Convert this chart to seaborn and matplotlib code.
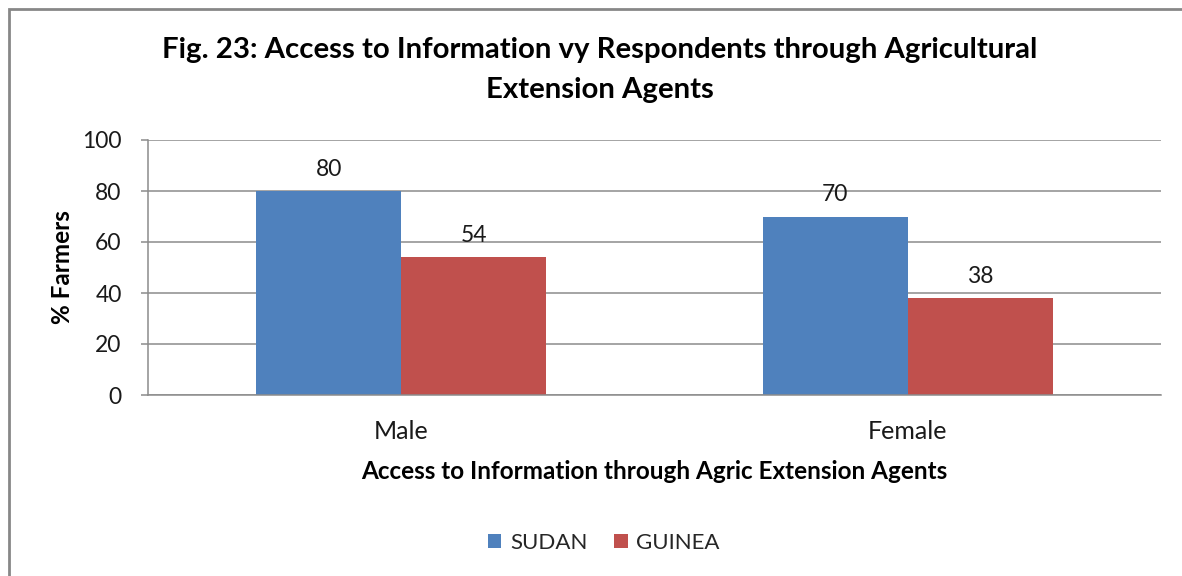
import matplotlib
matplotlib.use("Agg")
import matplotlib.pyplot as plt
import seaborn as sns
import pandas as pd
from matplotlib.patches import Rectangle, Patch

categories = ["Male", "Female"]
series_names = ["SUDAN", "GUINEA"]
sudan = [80, 70]
guinea = [54, 38]
yticks = [0, 20, 40, 60, 80, 100]
colors = ["#4F81BD", "#C0504D"]

title = "Fig. 23: Access to Information vy Respondents through Agricultural\nExtension Agents"
xlabel = "Access to Information through Agric Extension Agents"
ylabel = "% Farmers"

df = pd.DataFrame({
    "cat": categories * 2,
    "series": [series_names[0]] * 2 + [series_names[1]] * 2,
    "val": sudan + guinea,
})

sns.set_style("white")
plt.rcParams["font.family"] = ["Lato", "DejaVu Sans"]

W, H = 1182, 576
fig = plt.figure(figsize=(W / 100, H / 100), dpi=100)
ax = fig.add_axes([148 / W, 1 - 395 / H, (1161 - 148) / W, (395 - 140) / H])

sns.barplot(data=df, x="cat", y="val", hue="series", order=categories,
            hue_order=series_names, palette=colors, width=0.573,
            saturation=1, ax=ax, legend=False, edgecolor="none", linewidth=0)

for c in ax.containers:
    ax.bar_label(c, fmt="%g", padding=8, fontsize=16.5, color="#1a1a1a")

ax.set_ylim(0, 100)
ax.set_xlim(-0.5, 1.5)
ax.set_yticks(yticks)
ax.set_yticklabels([str(v) for v in yticks], fontsize=16.5, color="#1a1a1a")
ax.yaxis.grid(True, color="#8c8c8c", linewidth=1.1)
ax.set_axisbelow(True)
ax.set_xticks([0, 1])
ax.set_xticklabels(categories, fontsize=18, color="#1a1a1a")
ax.set_xticks([-0.5, 0.5, 1.5], minor=True)
ax.tick_params(axis="x", which="major", length=0, pad=18)
ax.tick_params(axis="x", which="minor", length=6, width=1.1, color="#8c8c8c", direction="out")
ax.tick_params(axis="y", which="major", length=5, width=1.1, color="#8c8c8c", direction="out", pad=14, left=True)

for s in ["top", "right"]:
    ax.spines[s].set_visible(False)
for s in ["left", "bottom"]:
    ax.spines[s].set_color("#8c8c8c")
    ax.spines[s].set_linewidth(1.1)

ax.set_xlabel(xlabel, fontsize=17.5, fontweight="bold", color="#000000", labelpad=12)
ax.set_ylabel(ylabel, fontsize=17.5, fontweight="bold", color="#000000", labelpad=6)

fig.text(600 / W, 1 - 70 / H, title, ha="center", va="center", fontsize=21.2,
         fontweight="bold", color="#000000", linespacing=1.63)

handles = [Patch(facecolor=colors[i], edgecolor="none", label=series_names[i]) for i in range(2)]
fig.legend(handles=handles, loc="center", bbox_to_anchor=(604 / W, 1 - 543 / H), ncol=2,
           frameon=False, fontsize=16, handlelength=0.6, handleheight=0.6,
           handletextpad=0.4, columnspacing=1.2)

fig.patches.append(Rectangle((9 / W, -0.1), 1.5, 1.1 - 9 / H, transform=fig.transFigure,
                             fill=False, edgecolor="#878787", linewidth=2, zorder=10))

fig.savefig("out.png", dpi=100, facecolor="white")
